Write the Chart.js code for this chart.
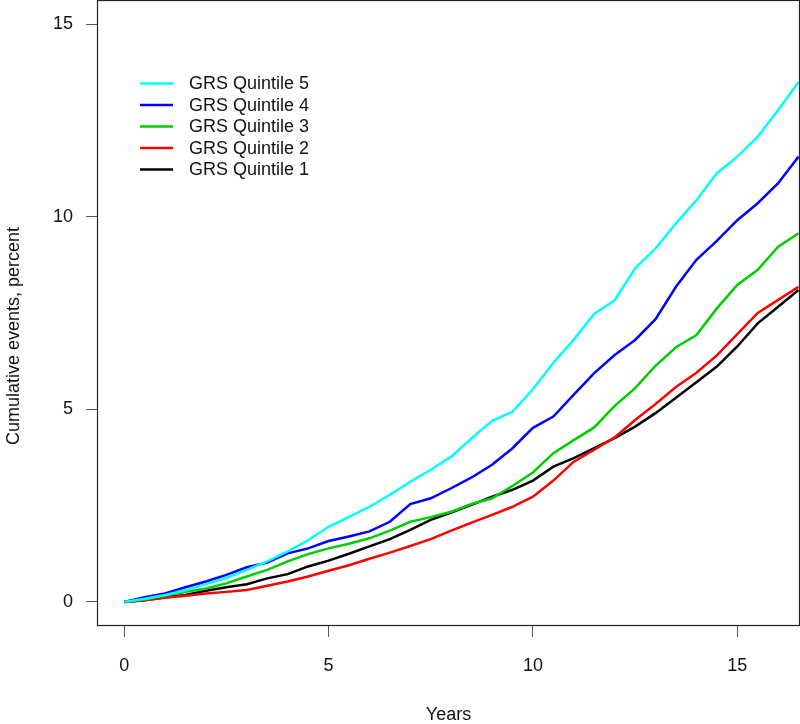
<!DOCTYPE html>
<html><head><meta charset="utf-8">
<script src="https://cdn.jsdelivr.net/npm/chart.js@4/dist/chart.umd.min.js"></script>
<style>html,body{margin:0;padding:0;background:#fff}#wrap{position:relative;width:800px;height:724px}</style>
</head><body><div id="wrap"><canvas id="c" width="800" height="724"></canvas></div>
<script>
const years = [0,0.5,1,1.5,2,2.5,3,3.5,4,4.5,5,5.5,6,6.5,7,7.5,8,8.5,9,9.5,10,10.5,11,11.5,12,12.5,13,13.5,14,14.5,15,15.5,16,16.5];
const q5 = [0,0.08,0.18,0.30,0.46,0.62,0.83,1.05,1.31,1.60,1.95,2.21,2.47,2.78,3.12,3.43,3.77,4.25,4.70,4.94,5.52,6.21,6.81,7.48,7.83,8.66,9.18,9.83,10.43,11.13,11.56,12.08,12.77,13.50];
const q4 = [0,0.12,0.22,0.38,0.53,0.70,0.90,1.02,1.26,1.39,1.58,1.70,1.83,2.08,2.54,2.69,2.95,3.23,3.56,3.99,4.52,4.81,5.38,5.94,6.41,6.80,7.34,8.18,8.88,9.37,9.91,10.35,10.87,11.56];
const q3 = [0,0.06,0.16,0.26,0.35,0.48,0.66,0.83,1.05,1.24,1.39,1.51,1.65,1.85,2.08,2.20,2.34,2.54,2.69,3.01,3.36,3.86,4.20,4.53,5.09,5.55,6.13,6.61,6.93,7.62,8.23,8.62,9.22,9.57];
const q2 = [0,0.04,0.11,0.16,0.22,0.26,0.31,0.42,0.53,0.66,0.81,0.95,1.12,1.28,1.45,1.63,1.85,2.06,2.26,2.47,2.73,3.15,3.64,3.95,4.27,4.72,5.14,5.58,5.95,6.40,6.95,7.50,7.84,8.18];
const q1 = [0,0.04,0.12,0.18,0.29,0.38,0.46,0.61,0.72,0.92,1.07,1.25,1.44,1.63,1.87,2.13,2.32,2.52,2.73,2.91,3.15,3.51,3.73,3.99,4.25,4.55,4.90,5.30,5.70,6.11,6.63,7.23,7.66,8.10];
const seriesLabels = ['GRS Quintile 5','GRS Quintile 4','GRS Quintile 3','GRS Quintile 2','GRS Quintile 1'];
const seriesColors = ['#00FFFF','#0000FF','#00CD00','#FF0000','#000000'];
const xTicks = [0,5,10,15];
const yTicks = [0,5,10,15];
const xTitle = 'Years';
const yTitle = 'Cumulative events, percent';

const FONT = "'Liberation Sans', Arial, sans-serif";
const seriesData = [q5,q4,q3,q2,q1];

const boxPlugin = {
  id: 'box',
  afterDraw(chart) {
    const {ctx, chartArea: ca} = chart;
    ctx.save();
    ctx.strokeStyle = '#222';
    ctx.lineWidth = 1.2;
    ctx.strokeRect(ca.left - 0.5, ca.top - 0.5, ca.right - ca.left + 1, ca.bottom - ca.top + 1);
    // legend
    ctx.font = '18px ' + FONT;
    ctx.textBaseline = 'middle';
    ctx.textAlign = 'left';
    chart.data.datasets.forEach((ds, i) => {
      const y = 83.5 + i * 21.5;
      ctx.strokeStyle = ds.borderColor;
      ctx.lineWidth = 2.5;
      ctx.beginPath(); ctx.moveTo(140, y); ctx.lineTo(173, y); ctx.stroke();
      ctx.fillStyle = '#111';
      ctx.fillText(ds.label, 189, y + 1);
    });
    // y title
    ctx.translate(14, 336);
    ctx.rotate(-Math.PI / 2);
    ctx.textAlign = 'center';
    ctx.fillText(yTitle, 0, 0);
    ctx.restore();
  }
};

new Chart(document.getElementById('c'), {
  type: 'line',
  data: {
    datasets: seriesLabels.map((lab, i) => ({
      label: lab,
      data: years.map((x, j) => ({x: x, y: seriesData[i][j]})),
      borderColor: seriesColors[i],
      backgroundColor: seriesColors[i],
      borderWidth: 2.5,
      pointRadius: 0,
      tension: 0,
      fill: false
    }))
  },
  options: {
    responsive: false,
    animation: false,
    devicePixelRatio: 1,
    layout: {padding: {top: 1, right: 1, left: 0, bottom: 0}},
    plugins: {legend: {display: false}, tooltip: {enabled: false}},
    scales: {
      x: {
        type: 'linear', position: 'bottom', min: -0.64, max: 16.51,
        afterFit: s => { s.height = 99; s.paddingLeft = 0; s.paddingRight = 0; },
        afterBuildTicks: s => { s.ticks = xTicks.map(v => ({value: v})); },
        grid: {drawOnChartArea: false, drawTicks: true, tickLength: 12, color: '#555', lineWidth: 1},
        border: {display: false},
        ticks: {font: {family: FONT, size: 18}, color: '#111', padding: 18, maxRotation: 0, autoSkip: false},
        title: {display: true, text: xTitle, font: {family: FONT, size: 18, lineHeight: 1}, color: '#111', padding: {top: 0, bottom: 0}}
      },
      y: {
        type: 'linear', position: 'left', min: -0.6, max: 15.6,
        afterFit: s => { s.width = 98; s.paddingTop = 0; s.paddingBottom = 0; },
        afterBuildTicks: s => { s.ticks = yTicks.map(v => ({value: v})); },
        grid: {drawOnChartArea: false, drawTicks: true, tickLength: 12, color: '#555', lineWidth: 1},
        border: {display: false},
        ticks: {font: {family: FONT, size: 18}, color: '#111', padding: 13, autoSkip: false}
      }
    }
  },
  plugins: [boxPlugin]
});
</script>
</body></html>
